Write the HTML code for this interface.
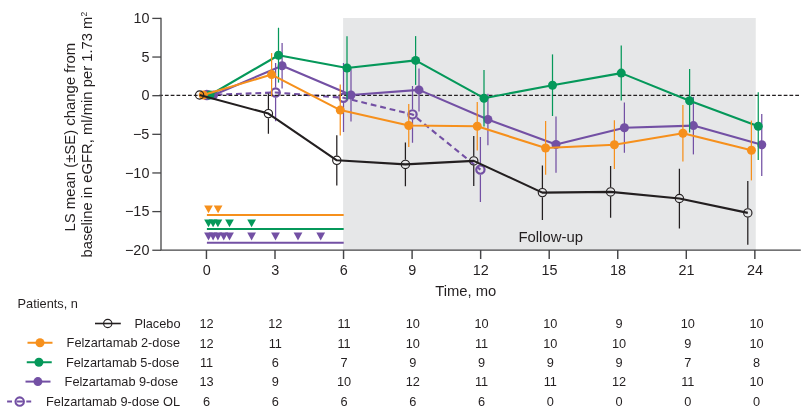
<!DOCTYPE html>
<html><head><meta charset="utf-8"><title>Chart</title>
<style>html,body{margin:0;padding:0;background:#fff;}body{width:807px;height:416px;position:relative;overflow:hidden;font-family:"Liberation Sans",sans-serif;}</style>
</head><body>
<svg width="807" height="416" viewBox="0 0 807 416" style="position:absolute;left:0;top:0">
<rect x="343.1" y="18" width="412.65" height="232" fill="#e6e7e8"/>
<path d="M275.6 63V87.40M275.6 97.60V121.25" stroke="#7350a4" stroke-width="1.25" fill="none"/>
<path d="M343.5 63.1V92.70M343.5 102.90V132.1" stroke="#7350a4" stroke-width="1.25" fill="none"/>
<path d="M412.5 86.1V109.30M412.5 119.50V142.75" stroke="#7350a4" stroke-width="1.25" fill="none"/>
<path d="M480.4 137.1V164.50M480.4 174.70V201.9" stroke="#7350a4" stroke-width="1.25" fill="none"/>
<polyline points="206.9,95 275.6,92.5 343.5,97.8 412.5,114.4 480.4,169.6" fill="none" stroke="#7350a4" stroke-width="2.1" stroke-linejoin="round" stroke-dasharray="5.8 3.9"/>
<circle cx="206.9" cy="95" r="4.15" fill="none" stroke="#7350a4" stroke-width="2.2"/>
<circle cx="275.6" cy="92.5" r="4.15" fill="none" stroke="#7350a4" stroke-width="2.2"/>
<circle cx="343.5" cy="97.8" r="4.15" fill="none" stroke="#7350a4" stroke-width="2.2"/>
<circle cx="412.5" cy="114.4" r="4.15" fill="none" stroke="#7350a4" stroke-width="2.2"/>
<circle cx="480.4" cy="169.6" r="4.15" fill="none" stroke="#7350a4" stroke-width="2.2"/>
<line x1="159.12" y1="95.35" x2="799.3" y2="95.35" stroke="#231f20" stroke-width="1.35" stroke-dasharray="3.75 2.033"/>
<line x1="282.1" y1="42.9" x2="282.1" y2="88.5" stroke="#7350a4" stroke-width="1.25"/>
<line x1="351" y1="68.5" x2="351" y2="121.5" stroke="#7350a4" stroke-width="1.25"/>
<line x1="419" y1="68.4" x2="419" y2="111.5" stroke="#7350a4" stroke-width="1.25"/>
<line x1="487.9" y1="93.75" x2="487.9" y2="145.25" stroke="#7350a4" stroke-width="1.25"/>
<line x1="556" y1="116.6" x2="556" y2="172.75" stroke="#7350a4" stroke-width="1.25"/>
<line x1="624.4" y1="102.5" x2="624.4" y2="152.75" stroke="#7350a4" stroke-width="1.25"/>
<line x1="693.4" y1="96.9" x2="693.4" y2="154.4" stroke="#7350a4" stroke-width="1.25"/>
<line x1="761.75" y1="114" x2="761.75" y2="175.9" stroke="#7350a4" stroke-width="1.25"/>
<polyline points="213.6,95 282.1,65.7 351,95 419,89.9 487.9,119.5 556,144.5 624.4,127.7 693.4,125.6 761.75,144.8" fill="none" stroke="#7350a4" stroke-width="2.1" stroke-linejoin="round"/>
<circle cx="213.6" cy="95" r="4.5" fill="#7350a4"/>
<circle cx="282.1" cy="65.7" r="4.5" fill="#7350a4"/>
<circle cx="351" cy="95" r="4.5" fill="#7350a4"/>
<circle cx="419" cy="89.9" r="4.5" fill="#7350a4"/>
<circle cx="487.9" cy="119.5" r="4.5" fill="#7350a4"/>
<circle cx="556" cy="144.5" r="4.5" fill="#7350a4"/>
<circle cx="624.4" cy="127.7" r="4.5" fill="#7350a4"/>
<circle cx="693.4" cy="125.6" r="4.5" fill="#7350a4"/>
<circle cx="761.75" cy="144.8" r="4.5" fill="#7350a4"/>
<line x1="278.5" y1="27.75" x2="278.5" y2="82.6" stroke="#05985a" stroke-width="1.25"/>
<line x1="347" y1="36.25" x2="347" y2="99.4" stroke="#05985a" stroke-width="1.25"/>
<line x1="415.6" y1="36.1" x2="415.6" y2="84.9" stroke="#05985a" stroke-width="1.25"/>
<line x1="484" y1="70" x2="484" y2="126.5" stroke="#05985a" stroke-width="1.25"/>
<line x1="552.5" y1="54.4" x2="552.5" y2="116" stroke="#05985a" stroke-width="1.25"/>
<line x1="621.25" y1="45.6" x2="621.25" y2="100.6" stroke="#05985a" stroke-width="1.25"/>
<line x1="689.6" y1="69" x2="689.6" y2="132.5" stroke="#05985a" stroke-width="1.25"/>
<line x1="758.25" y1="92.25" x2="758.25" y2="160" stroke="#05985a" stroke-width="1.25"/>
<polyline points="210.0,95 278.5,55.25 347,68 415.6,60.4 484,98.2 552.5,85.2 621.25,73.1 689.6,100.7 758.25,126.2" fill="none" stroke="#05985a" stroke-width="2.1" stroke-linejoin="round"/>
<circle cx="210.0" cy="95" r="4.5" fill="#05985a"/>
<circle cx="278.5" cy="55.25" r="4.5" fill="#05985a"/>
<circle cx="347" cy="68" r="4.5" fill="#05985a"/>
<circle cx="415.6" cy="60.4" r="4.5" fill="#05985a"/>
<circle cx="484" cy="98.2" r="4.5" fill="#05985a"/>
<circle cx="552.5" cy="85.2" r="4.5" fill="#05985a"/>
<circle cx="621.25" cy="73.1" r="4.5" fill="#05985a"/>
<circle cx="689.6" cy="100.7" r="4.5" fill="#05985a"/>
<circle cx="758.25" cy="126.2" r="4.5" fill="#05985a"/>
<line x1="271.6" y1="53.1" x2="271.6" y2="96.4" stroke="#f6901c" stroke-width="1.25"/>
<line x1="340.25" y1="84.4" x2="340.25" y2="135.6" stroke="#f6901c" stroke-width="1.25"/>
<line x1="408.75" y1="104" x2="408.75" y2="146.9" stroke="#f6901c" stroke-width="1.25"/>
<line x1="477.25" y1="102.1" x2="477.25" y2="150.4" stroke="#f6901c" stroke-width="1.25"/>
<line x1="545.6" y1="121" x2="545.6" y2="174.75" stroke="#f6901c" stroke-width="1.25"/>
<line x1="614.4" y1="120.25" x2="614.4" y2="169" stroke="#f6901c" stroke-width="1.25"/>
<line x1="682.9" y1="105" x2="682.9" y2="161.5" stroke="#f6901c" stroke-width="1.25"/>
<line x1="751.4" y1="120.6" x2="751.4" y2="180.4" stroke="#f6901c" stroke-width="1.25"/>
<polyline points="203.2,95 271.6,74.6 340.25,110.1 408.75,125.5 477.25,126.25 545.6,148 614.4,144.7 682.9,133.2 751.4,150.3" fill="none" stroke="#f6901c" stroke-width="2.1" stroke-linejoin="round"/>
<circle cx="203.2" cy="95" r="4.5" fill="#f6901c"/>
<circle cx="271.6" cy="74.6" r="4.5" fill="#f6901c"/>
<circle cx="340.25" cy="110.1" r="4.5" fill="#f6901c"/>
<circle cx="408.75" cy="125.5" r="4.5" fill="#f6901c"/>
<circle cx="477.25" cy="126.25" r="4.5" fill="#f6901c"/>
<circle cx="545.6" cy="148" r="4.5" fill="#f6901c"/>
<circle cx="614.4" cy="144.7" r="4.5" fill="#f6901c"/>
<circle cx="682.9" cy="133.2" r="4.5" fill="#f6901c"/>
<circle cx="751.4" cy="150.3" r="4.5" fill="#f6901c"/>
<path d="M268.4 93.4V109.00M268.4 118.20V133.75" stroke="#231f20" stroke-width="1.25" fill="none"/>
<path d="M336.8 135.25V155.70M336.8 164.90V185.4" stroke="#231f20" stroke-width="1.25" fill="none"/>
<path d="M405.4 142.5V159.80M405.4 169.00V186.25" stroke="#231f20" stroke-width="1.25" fill="none"/>
<path d="M473.75 135.9V156.30M473.75 165.50V186" stroke="#231f20" stroke-width="1.25" fill="none"/>
<path d="M542.4 165.6V188.00M542.4 197.20V220" stroke="#231f20" stroke-width="1.25" fill="none"/>
<path d="M610.6 165.9V187.30M610.6 196.50V217.75" stroke="#231f20" stroke-width="1.25" fill="none"/>
<path d="M679.4 168.75V193.90M679.4 203.10V228.5" stroke="#231f20" stroke-width="1.25" fill="none"/>
<path d="M747.8 181V208.30M747.8 217.50V244.75" stroke="#231f20" stroke-width="1.25" fill="none"/>
<polyline points="199.6,95 268.4,113.6 336.8,160.3 405.4,164.4 473.75,160.9 542.4,192.6 610.6,191.9 679.4,198.5 747.8,212.9" fill="none" stroke="#231f20" stroke-width="2.1" stroke-linejoin="round"/>
<circle cx="199.6" cy="95" r="4.15" fill="none" stroke="#231f20" stroke-width="1.15"/>
<circle cx="268.4" cy="113.6" r="4.15" fill="none" stroke="#231f20" stroke-width="1.15"/>
<circle cx="336.8" cy="160.3" r="4.15" fill="none" stroke="#231f20" stroke-width="1.15"/>
<circle cx="405.4" cy="164.4" r="4.15" fill="none" stroke="#231f20" stroke-width="1.15"/>
<circle cx="473.75" cy="160.9" r="4.15" fill="none" stroke="#231f20" stroke-width="1.15"/>
<circle cx="542.4" cy="192.6" r="4.15" fill="none" stroke="#231f20" stroke-width="1.15"/>
<circle cx="610.6" cy="191.9" r="4.15" fill="none" stroke="#231f20" stroke-width="1.15"/>
<circle cx="679.4" cy="198.5" r="4.15" fill="none" stroke="#231f20" stroke-width="1.15"/>
<circle cx="747.8" cy="212.9" r="4.15" fill="none" stroke="#231f20" stroke-width="1.15"/>
<line x1="206.9" y1="215.1" x2="343.7" y2="215.1" stroke="#f6901c" stroke-width="2"/>
<line x1="206.9" y1="229" x2="343.7" y2="229" stroke="#05985a" stroke-width="2"/>
<line x1="206.9" y1="242.75" x2="343.7" y2="242.75" stroke="#7350a4" stroke-width="2"/>
<polygon points="204.125,205.5 212.875,205.5 208.5,213.3" fill="#f6901c"/>
<polygon points="213.725,205.5 222.475,205.5 218.1,213.3" fill="#f6901c"/>
<polygon points="204.125,219.4 212.875,219.4 208.5,227.20000000000002" fill="#05985a"/>
<polygon points="208.725,219.4 217.475,219.4 213.1,227.20000000000002" fill="#05985a"/>
<polygon points="213.525,219.4 222.275,219.4 217.9,227.20000000000002" fill="#05985a"/>
<polygon points="225.125,219.4 233.875,219.4 229.5,227.20000000000002" fill="#05985a"/>
<polygon points="247.225,219.4 255.975,219.4 251.6,227.20000000000002" fill="#05985a"/>
<polygon points="204.125,232.6 212.875,232.6 208.5,240.4" fill="#7350a4"/>
<polygon points="208.725,232.6 217.475,232.6 213.1,240.4" fill="#7350a4"/>
<polygon points="213.525,232.6 222.275,232.6 217.9,240.4" fill="#7350a4"/>
<polygon points="219.375,232.6 228.125,232.6 223.75,240.4" fill="#7350a4"/>
<polygon points="225.125,232.6 233.875,232.6 229.5,240.4" fill="#7350a4"/>
<polygon points="247.225,232.6 255.975,232.6 251.6,240.4" fill="#7350a4"/>
<polygon points="271.125,232.6 279.875,232.6 275.5,240.4" fill="#7350a4"/>
<polygon points="293.625,232.6 302.375,232.6 298,240.4" fill="#7350a4"/>
<polygon points="316.325,232.6 325.075,232.6 320.7,240.4" fill="#7350a4"/>
<path d="M161 17.8 V250.1 H800.8" fill="none" stroke="#454547" stroke-width="1.3"/>
<line x1="152.3" y1="18.40" x2="161" y2="18.40" stroke="#454547" stroke-width="1.3"/>
<line x1="152.3" y1="57.04" x2="161" y2="57.04" stroke="#454547" stroke-width="1.3"/>
<line x1="152.3" y1="95.68" x2="161" y2="95.68" stroke="#454547" stroke-width="1.3"/>
<line x1="152.3" y1="134.32" x2="161" y2="134.32" stroke="#454547" stroke-width="1.3"/>
<line x1="152.3" y1="172.96" x2="161" y2="172.96" stroke="#454547" stroke-width="1.3"/>
<line x1="152.3" y1="211.60" x2="161" y2="211.60" stroke="#454547" stroke-width="1.3"/>
<line x1="152.3" y1="250.24" x2="161" y2="250.24" stroke="#454547" stroke-width="1.3"/>
<line x1="206.45" y1="250" x2="206.45" y2="259" stroke="#454547" stroke-width="1.45"/>
<line x1="275.00" y1="250" x2="275.00" y2="259" stroke="#454547" stroke-width="1.45"/>
<line x1="343.55" y1="250" x2="343.55" y2="259" stroke="#454547" stroke-width="1.45"/>
<line x1="412.10" y1="250" x2="412.10" y2="259" stroke="#454547" stroke-width="1.45"/>
<line x1="480.65" y1="250" x2="480.65" y2="259" stroke="#454547" stroke-width="1.45"/>
<line x1="549.20" y1="250" x2="549.20" y2="259" stroke="#454547" stroke-width="1.45"/>
<line x1="617.75" y1="250" x2="617.75" y2="259" stroke="#454547" stroke-width="1.45"/>
<line x1="686.30" y1="250" x2="686.30" y2="259" stroke="#454547" stroke-width="1.45"/>
<line x1="754.85" y1="250" x2="754.85" y2="259" stroke="#454547" stroke-width="1.45"/>
<g font-family="Liberation Sans, sans-serif" font-size="14.4" fill="#231f20" style="opacity:0.999">
<text x="149.4" y="23.10" text-anchor="end">10</text>
<text x="149.4" y="61.74" text-anchor="end">5</text>
<text x="149.4" y="100.38" text-anchor="end">0</text>
<text x="149.4" y="139.02" text-anchor="end">−5</text>
<text x="149.4" y="177.66" text-anchor="end">−10</text>
<text x="149.4" y="216.30" text-anchor="end">−15</text>
<text x="149.4" y="254.94" text-anchor="end">−20</text>
<text x="206.65" y="274.9" text-anchor="middle">0</text>
<text x="275.20" y="274.9" text-anchor="middle">3</text>
<text x="343.75" y="274.9" text-anchor="middle">6</text>
<text x="412.30" y="274.9" text-anchor="middle">9</text>
<text x="480.85" y="274.9" text-anchor="middle">12</text>
<text x="549.40" y="274.9" text-anchor="middle">15</text>
<text x="617.95" y="274.9" text-anchor="middle">18</text>
<text x="686.50" y="274.9" text-anchor="middle">21</text>
<text x="755.05" y="274.9" text-anchor="middle">24</text>
<text x="465.7" y="295.5" text-anchor="middle" font-size="14.8">Time, mo</text>
<text x="550.7" y="241.9" text-anchor="middle" font-size="14.9">Follow-up</text>
<text transform="translate(75,137.2) rotate(-90)" text-anchor="middle" font-size="14.9">LS mean (±SE) change from</text>
<text transform="translate(92.2,134.7) rotate(-90)" text-anchor="middle" font-size="14.8">baseline in eGFR, ml/min per 1.73 m<tspan font-size="8.4" dy="-4.8">2</tspan></text>
</g>
<g font-family="Liberation Sans, sans-serif" font-size="12.75" fill="#231f20" style="opacity:0.999">
<text x="17.6" y="308.1">Patients, n</text>
<text x="180.5" y="328" text-anchor="end">Placebo</text>
<text x="206.60" y="328.3" text-anchor="middle">12</text>
<text x="275.35" y="328.3" text-anchor="middle">12</text>
<text x="344.10" y="328.3" text-anchor="middle">11</text>
<text x="412.85" y="328.3" text-anchor="middle">10</text>
<text x="481.60" y="328.3" text-anchor="middle">10</text>
<text x="550.35" y="328.3" text-anchor="middle">10</text>
<text x="619.10" y="328.3" text-anchor="middle">9</text>
<text x="687.85" y="328.3" text-anchor="middle">10</text>
<text x="756.60" y="328.3" text-anchor="middle">10</text>
<text x="180" y="347.2" text-anchor="end">Felzartamab 2-dose</text>
<text x="206.60" y="347.5" text-anchor="middle">12</text>
<text x="275.35" y="347.5" text-anchor="middle">11</text>
<text x="344.10" y="347.5" text-anchor="middle">11</text>
<text x="412.85" y="347.5" text-anchor="middle">10</text>
<text x="481.60" y="347.5" text-anchor="middle">11</text>
<text x="550.35" y="347.5" text-anchor="middle">10</text>
<text x="619.10" y="347.5" text-anchor="middle">10</text>
<text x="687.85" y="347.5" text-anchor="middle">9</text>
<text x="756.60" y="347.5" text-anchor="middle">10</text>
<text x="179.3" y="366.7" text-anchor="end">Felzartamab 5-dose</text>
<text x="206.60" y="367.0" text-anchor="middle">11</text>
<text x="275.35" y="367.0" text-anchor="middle">6</text>
<text x="344.10" y="367.0" text-anchor="middle">7</text>
<text x="412.85" y="367.0" text-anchor="middle">9</text>
<text x="481.60" y="367.0" text-anchor="middle">9</text>
<text x="550.35" y="367.0" text-anchor="middle">9</text>
<text x="619.10" y="367.0" text-anchor="middle">9</text>
<text x="687.85" y="367.0" text-anchor="middle">7</text>
<text x="756.60" y="367.0" text-anchor="middle">8</text>
<text x="178" y="386.1" text-anchor="end">Felzartamab 9-dose</text>
<text x="206.60" y="386.40000000000003" text-anchor="middle">13</text>
<text x="275.35" y="386.40000000000003" text-anchor="middle">9</text>
<text x="344.10" y="386.40000000000003" text-anchor="middle">10</text>
<text x="412.85" y="386.40000000000003" text-anchor="middle">12</text>
<text x="481.60" y="386.40000000000003" text-anchor="middle">11</text>
<text x="550.35" y="386.40000000000003" text-anchor="middle">11</text>
<text x="619.10" y="386.40000000000003" text-anchor="middle">12</text>
<text x="687.85" y="386.40000000000003" text-anchor="middle">11</text>
<text x="756.60" y="386.40000000000003" text-anchor="middle">10</text>
<text x="180" y="405.5" text-anchor="end">Felzartamab 9-dose OL</text>
<text x="206.60" y="405.8" text-anchor="middle">6</text>
<text x="275.35" y="405.8" text-anchor="middle">6</text>
<text x="344.10" y="405.8" text-anchor="middle">6</text>
<text x="412.85" y="405.8" text-anchor="middle">6</text>
<text x="481.60" y="405.8" text-anchor="middle">6</text>
<text x="550.35" y="405.8" text-anchor="middle">0</text>
<text x="619.10" y="405.8" text-anchor="middle">0</text>
<text x="687.85" y="405.8" text-anchor="middle">0</text>
<text x="756.60" y="405.8" text-anchor="middle">0</text>
</g>
<line x1="95" y1="323.5" x2="120.8" y2="323.5" stroke="#231f20" stroke-width="1.6"/><circle cx="107.75" cy="323.5" r="4.15" fill="none" stroke="#231f20" stroke-width="1.15"/>
<line x1="27.5" y1="342.75" x2="52.5" y2="342.75" stroke="#f6901c" stroke-width="2"/><circle cx="40" cy="342.75" r="4.5" fill="#f6901c"/>
<line x1="26.75" y1="362.25" x2="51.75" y2="362.25" stroke="#05985a" stroke-width="2"/><circle cx="38.9" cy="362.25" r="4.5" fill="#05985a"/>
<line x1="25.5" y1="381.6" x2="50.5" y2="381.6" stroke="#7350a4" stroke-width="2"/><circle cx="37.9" cy="381.6" r="4.5" fill="#7350a4"/>
<path d="M7.1 401.6H12 M16.7 401.6H22.9 M26.3 401.6H31.2" stroke="#7350a4" stroke-width="2" fill="none"/><circle cx="19.7" cy="401.6" r="4.2" fill="none" stroke="#7350a4" stroke-width="2.1"/>
</svg>
</body></html>
